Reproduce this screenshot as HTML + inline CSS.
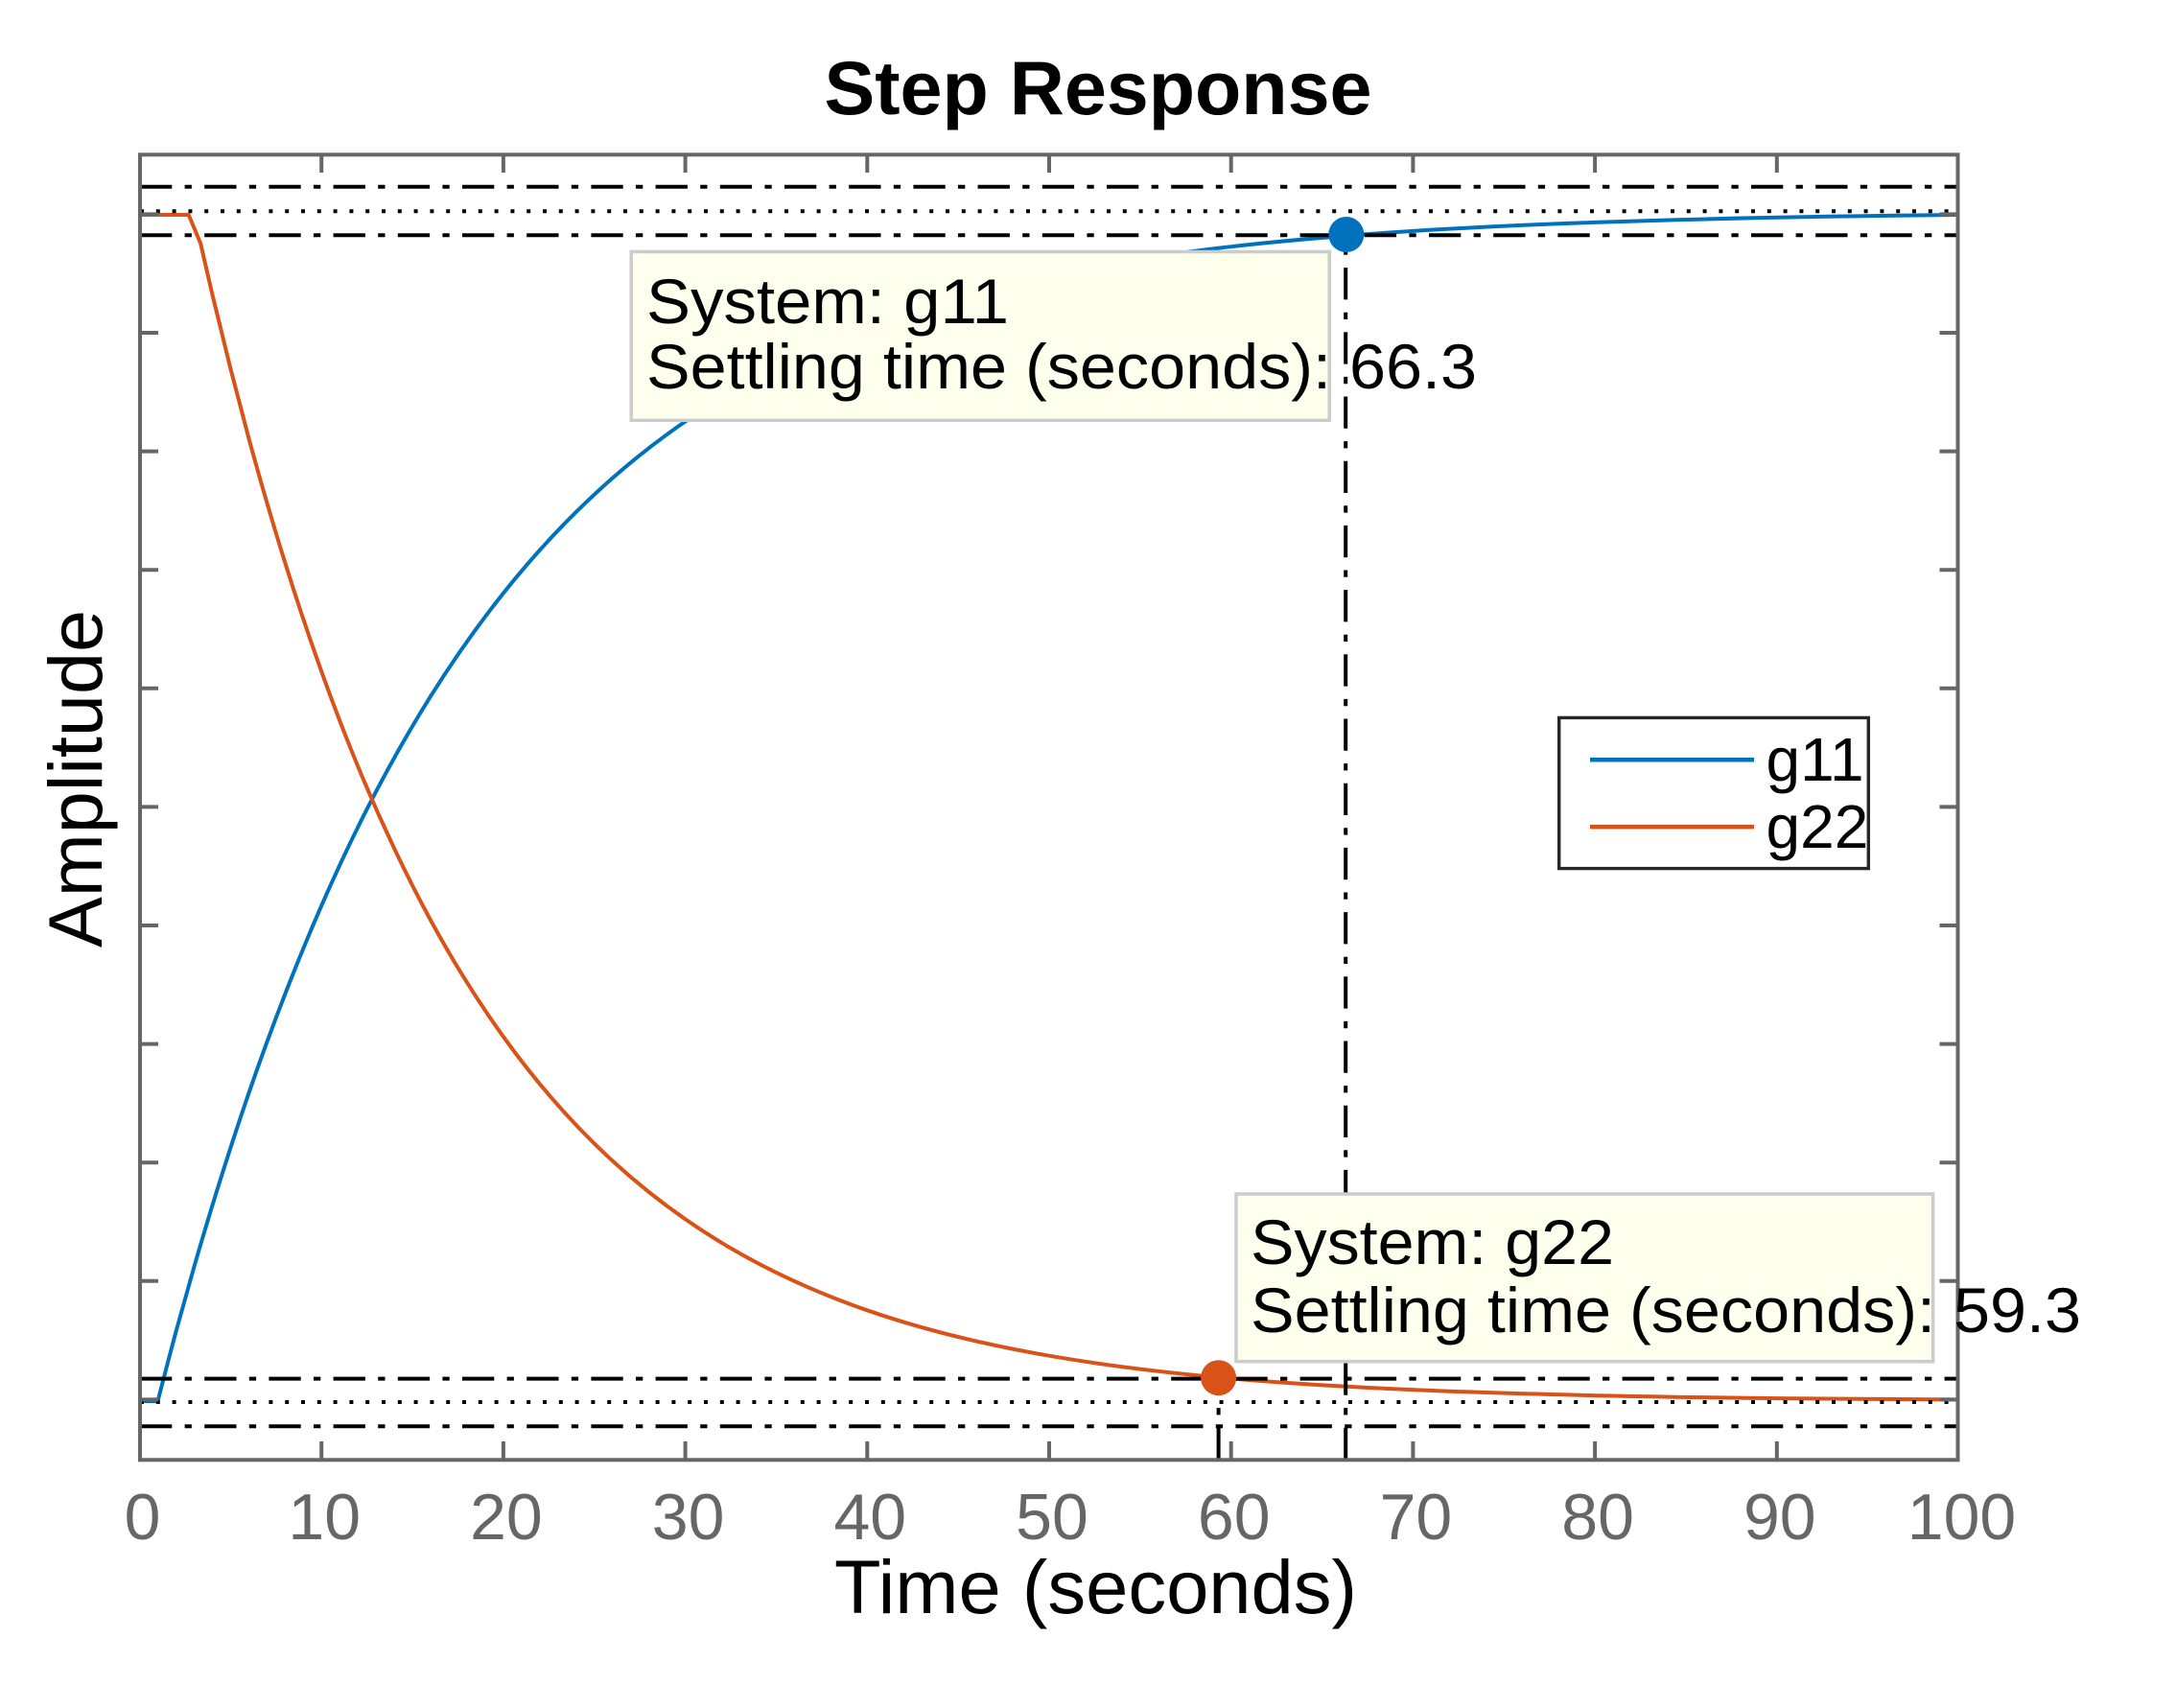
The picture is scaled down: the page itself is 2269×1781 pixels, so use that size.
<!DOCTYPE html>
<html>
<head>
<meta charset="utf-8">
<style>
  html, body { margin: 0; padding: 0; background: #ffffff; }
  svg { display: block; }
  text { font-family: "Liberation Sans", Arial, sans-serif; }
</style>
</head>
<body>
<svg xmlns="http://www.w3.org/2000/svg" width="2269" height="1781" viewBox="0 0 2269 1781">
  <rect x="0" y="0" width="2269" height="1781" fill="#ffffff"/>

  <!-- Title -->
  <text x="1145" y="119" font-size="79" font-weight="bold" text-anchor="middle" fill="#000" textLength="571" lengthAdjust="spacingAndGlyphs">Step Response</text>

  <!-- Axes background -->
  <rect x="146" y="161.3" width="1895.5" height="1361" fill="#ffffff" stroke="none"/>

  <!-- Curves -->
  <path fill="none" stroke="#0072BD" stroke-width="4" stroke-linejoin="round"
    d="M146,1461 L164.5,1461 L174.0,1424.4
       C177.13,1412.49 180.27,1400.46 183.4,1388.9
       C189.73,1365.54 196.07,1343.0 202.4,1321.0
       C208.73,1299.0 215.07,1277.83 221.4,1257.1
       C227.73,1236.37 234.07,1216.42 240.4,1196.9
       C246.7,1177.48 253.0,1158.49 259.3,1140.2
       C271.97,1103.43 284.63,1069.13 297.3,1036.5
       C309.93,1003.96 322.57,973.27 335.2,944.4
       C347.83,915.53 360.47,888.31 373.1,862.7
       C398.4,811.42 423.7,766.45 449.0,726.1
       C474.3,685.75 499.6,650.28 524.9,618.5
       C562.83,570.86 600.77,531.75 638.7,498.5
       C676.63,465.25 714.57,438.02 752.5,414.8
       C803.1,383.83 853.7,360.18 904.3,341.0
       C967.53,317.03 1030.77,300.06 1094.0,286.9
       C1157.23,273.74 1220.47,264.43 1283.7,257.2
       C1323.53,252.65 1363.37,249.03 1403.2,245.9
       C1489.83,239.09 1576.47,234.88 1663.1,231.9
       C1789.23,227.56 1915.37,225.2 2041.5,224.0"/>
  <path fill="none" stroke="#D95319" stroke-width="4" stroke-linejoin="round"
    d="M146,224 L196.7,224 L209.1,253.7
       C213.2,271.83 217.3,289.67 221.4,307.0
       C227.73,333.77 234.07,359.42 240.4,384.4
       C246.7,409.25 253.0,433.42 259.3,456.6
       C265.63,479.9 271.97,502.27 278.3,524.0
       C284.63,545.73 290.97,566.62 297.3,586.9
       C309.93,627.35 322.57,664.99 335.2,700.2
       C347.83,735.41 360.47,768.26 373.1,798.9
       C385.77,829.62 398.43,857.96 411.1,884.7
       C423.73,911.37 436.37,936.29 449.0,959.5
       C474.3,1005.98 499.6,1045.88 524.9,1081.1
       C562.83,1133.9 600.77,1175.69 638.7,1210.5
       C676.63,1245.31 714.57,1272.96 752.5,1295.9
       C803.1,1326.5 853.7,1348.75 904.3,1366.3
       C967.53,1388.24 1030.77,1402.74 1094.0,1413.7
       C1152.8,1423.89 1211.6,1430.86 1270.4,1436.2
       C1350.7,1443.49 1431.0,1447.67 1511.3,1450.7
       C1625.13,1454.99 1738.97,1456.89 1852.8,1458.1
       C1915.7,1458.77 1978.6,1459.15 2041.5,1459.5"/>

  <!-- Settling bands (dash-dot) and final values (dotted) -->
  <g stroke="#000" stroke-width="4" fill="none">
    <line x1="146" y1="194.8" x2="2041.5" y2="194.8" stroke-dasharray="33.3 13.3 7.3 13.3"/>
    <line x1="146" y1="245.2" x2="2041.5" y2="245.2" stroke-dasharray="33.3 13.3 7.3 13.3"/>
    <line x1="146" y1="1437.6" x2="2041.5" y2="1437.6" stroke-dasharray="33.3 13.3 7.3 13.3"/>
    <line x1="146" y1="1487.3" x2="2041.5" y2="1487.3" stroke-dasharray="33.3 13.3 7.3 13.3"/>
    <line x1="146" y1="220.2" x2="2041.5" y2="220.2" stroke-dasharray="4 12.8"/>
    <line x1="146" y1="1462" x2="2041.5" y2="1462" stroke-dasharray="4 12.8"/>
    <!-- vertical settling time lines (drawn from bottom up) -->
    <line x1="1403.2" y1="1522" x2="1403.2" y2="246" stroke-dasharray="33.3 13.3 7.3 13.3"/>
    <line x1="1270.6" y1="1522" x2="1270.6" y2="1437" stroke-dasharray="33.3 13.3 7.3 13.3"/>
  </g>

  <!-- Markers -->
  <circle cx="1403.8" cy="244.5" r="18.5" fill="#0072BD"/>
  <circle cx="1270.6" cy="1436.7" r="18.5" fill="#D95319"/>

  <!-- Axes frame and ticks -->
  <g stroke="#666666" stroke-width="4" fill="none">
    <rect x="146" y="161.3" width="1895.5" height="1361"/>
    <path d="M335.2 1522 V1503 M524.9 1522 V1503 M714.6 1522 V1503 M904.3 1522 V1503 M1094.0 1522 V1503 M1283.7 1522 V1503 M1473.4 1522 V1503 M1663.1 1522 V1503 M1852.8 1522 V1503"/>
    <path d="M335.2 161 V180 M524.9 161 V180 M714.6 161 V180 M904.3 161 V180 M1094.0 161 V180 M1283.7 161 V180 M1473.4 161 V180 M1663.1 161 V180 M1852.8 161 V180"/>
    <path d="M146 1459.4 H165 M146 1335.8 H165 M146 1212.2 H165 M146 1088.6 H165 M146 965.0 H165 M146 841.4 H165 M146 717.8 H165 M146 594.2 H165 M146 470.6 H165 M146 347.0 H165 M146 223.4 H165"/>
    <path d="M2041.5 1459.4 H2022.5 M2041.5 1335.8 H2022.5 M2041.5 1212.2 H2022.5 M2041.5 1088.6 H2022.5 M2041.5 965.0 H2022.5 M2041.5 841.4 H2022.5 M2041.5 717.8 H2022.5 M2041.5 594.2 H2022.5 M2041.5 470.6 H2022.5 M2041.5 347.0 H2022.5 M2041.5 223.4 H2022.5"/>
  </g>

  <!-- X tick labels -->
  <g font-size="68" fill="#666666" text-anchor="middle">
    <text x="148.5" y="1605">0</text>
    <text x="338.2" y="1605">10</text>
    <text x="527.9" y="1605">20</text>
    <text x="717.6" y="1605">30</text>
    <text x="907.3" y="1605">40</text>
    <text x="1097.0" y="1605">50</text>
    <text x="1286.7" y="1605">60</text>
    <text x="1476.4" y="1605">70</text>
    <text x="1666.1" y="1605">80</text>
    <text x="1855.8" y="1605">90</text>
    <text x="2045.5" y="1605">100</text>
  </g>

  <!-- Axis labels -->
  <text x="870" y="1682" font-size="79" fill="#000" textLength="545" lengthAdjust="spacingAndGlyphs">Time (seconds)</text>
  <text transform="translate(106,988) rotate(-90)" x="0" y="0" font-size="79" fill="#000" textLength="352" lengthAdjust="spacingAndGlyphs">Amplitude</text>

  <!-- Data tip g11 -->
  <rect x="658.2" y="262.5" width="728" height="175.8" fill="#FFFFED" stroke="#CCCCCC" stroke-width="3.5"/>
  <text x="674" y="337" font-size="66" fill="#000" textLength="378" lengthAdjust="spacingAndGlyphs">System: g11</text>
  <text x="674" y="405" font-size="66" fill="#000" textLength="866" lengthAdjust="spacingAndGlyphs">Settling time (seconds): 66.3</text>

  <!-- Data tip g22 -->
  <rect x="1289" y="1245" width="726.6" height="174.7" fill="#FFFFED" stroke="#CCCCCC" stroke-width="3.5"/>
  <text x="1304" y="1318" font-size="66" fill="#000" textLength="379" lengthAdjust="spacingAndGlyphs">System: g22</text>
  <text x="1304" y="1389" font-size="66" fill="#000" textLength="866" lengthAdjust="spacingAndGlyphs">Settling time (seconds): 59.3</text>

  <!-- Legend -->
  <rect x="1625.7" y="748.4" width="322.6" height="157.2" fill="#ffffff" stroke="#262626" stroke-width="3.4"/>
  <line x1="1658" y1="792.3" x2="1829" y2="792.3" stroke="#0072BD" stroke-width="4.5"/>
  <line x1="1658" y1="862.3" x2="1829" y2="862.3" stroke="#D95319" stroke-width="4.5"/>
  <text x="1841.5" y="814" font-size="64" fill="#000">g11</text>
  <text x="1841.5" y="884" font-size="64" fill="#000">g22</text>
</svg>
</body>
</html>
